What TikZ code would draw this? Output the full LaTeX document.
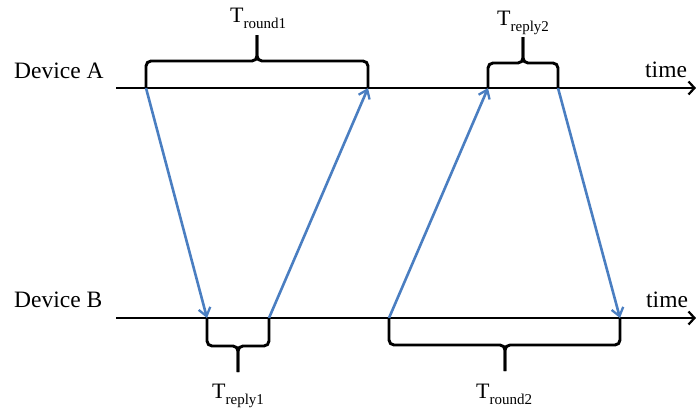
\documentclass[tikz,border=0pt]{standalone}
\usepackage{fontspec}
\setmainfont{Liberation Serif}
\usetikzlibrary{arrows.meta}
\definecolor{msgblue}{RGB}{74,126,193}
% T with a lowered, smaller subscript
\newcommand\tsub[1]{T\raisebox{-6pt}{\fontsize{15}{15}\selectfont #1}}
\begin{document}
\begin{tikzpicture}[x=1pt,y=-1pt,
  timeline/.style={line width=2.9pt, -{Straight Barb[length=6pt,width=13pt,line width=2.2pt]}},
  message/.style={draw=msgblue, line width=2.6pt, -{Straight Barb[length=8pt,width=12pt,line width=2.3pt]}},
  bracket/.style={line width=2.9pt, rounded corners=5pt},
  lbl/.style={inner sep=0pt, font=\fontsize{23.5}{28}\selectfont},
  tlbl/.style={inner sep=0pt, font=\fontsize{22}{26}\selectfont},
]
\useasboundingbox (0,0) rectangle (696,410);

% device labels
\node[lbl, anchor=base west] (devA) at (14,78) {Device A};
\node[lbl, anchor=base west] (devB) at (14,307) {Device B};
\node[lbl, anchor=base west] (timeA) at (645,77) {time};
\node[lbl, anchor=base west] (timeB) at (646,307) {time};

% time axes
\coordinate (aStart) at (116,88);
\coordinate (aEnd)   at (696,88);
\coordinate (bStart) at (116,318);
\coordinate (bEnd)   at (696,318);
\draw[timeline] (aStart) -- (aEnd);
\draw[timeline] (bStart) -- (bEnd);

% send / receive instants
\coordinate (a1) at (146,88);
\coordinate (a2) at (368,88);
\coordinate (a3) at (488,88);
\coordinate (a4) at (558,88);
\coordinate (b1) at (207,318);
\coordinate (b2) at (269,318);
\coordinate (b3) at (389,318);
\coordinate (b4) at (620,318);

% messages
\draw[message] (a1) -- (b1);
\draw[message] (b2) -- (a2);
\draw[message] (b3) -- (a3);
\draw[message] (a4) -- (b4);

% interval brackets
\draw[bracket] (a1) -- (146,61) -- (257,61) -- (257,35);
\draw[bracket] (a2) -- (368,61) -- (257,61) -- (257,35);
\draw[bracket] (a3) -- (488,63) -- (523,63) -- (523,37);
\draw[bracket] (a4) -- (558,63) -- (523,63) -- (523,37);
\draw[bracket] (b1) -- (207,346) -- (238,346) -- (238,372);
\draw[bracket] (b2) -- (269,346) -- (238,346) -- (238,372);
\draw[bracket] (b3) -- (389,345) -- (505,345) -- (505,371);
\draw[bracket] (b4) -- (620,345) -- (505,345) -- (505,371);

% interval labels
\node[tlbl, anchor=base west] (tround1) at (230,22) {\tsub{round1}};
\node[tlbl, anchor=base west] (treply2) at (497,25) {\tsub{reply2}};
\node[tlbl, anchor=base west] (treply1) at (212,398) {\tsub{reply1}};
\node[tlbl, anchor=base west] (tround2) at (476,398) {\tsub{round2}};
\end{tikzpicture}
\end{document}
